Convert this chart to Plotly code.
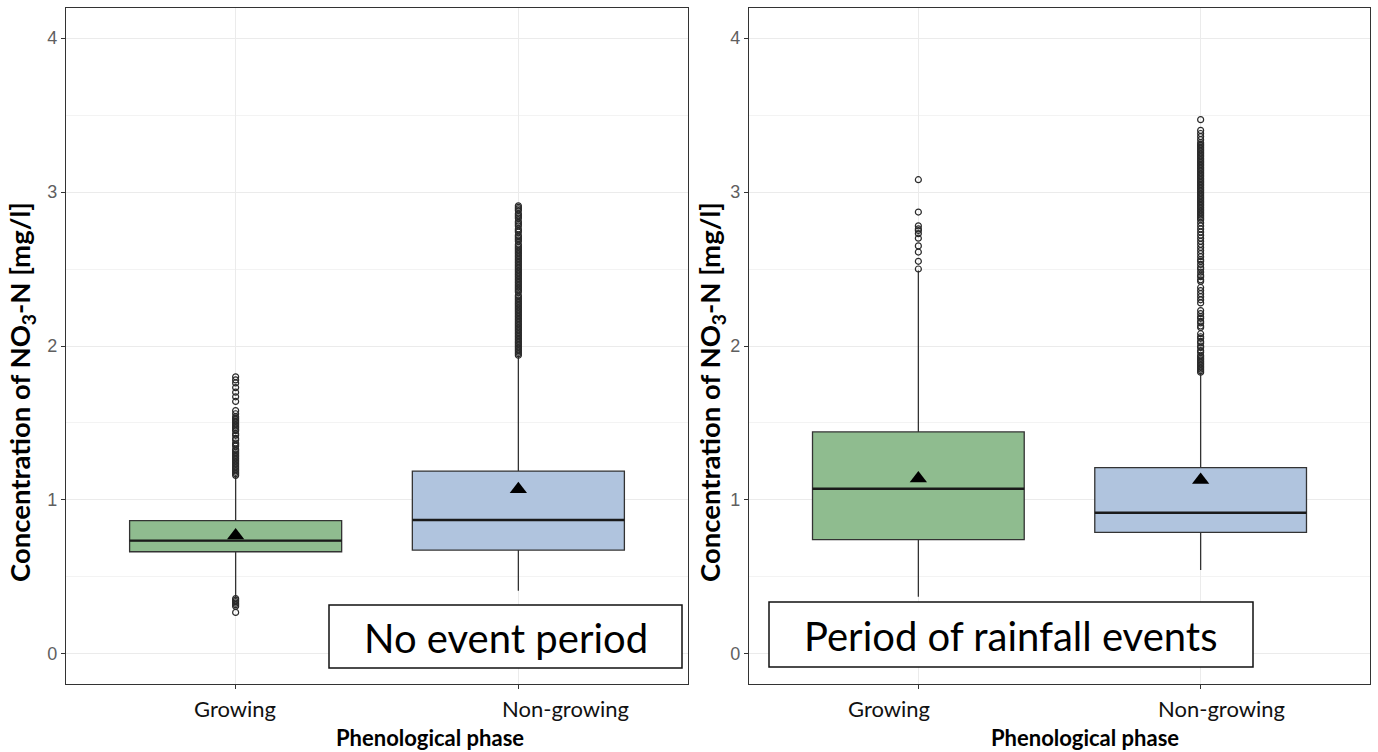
import plotly.graph_objects as go

W, H = 1378, 752

# ---------------- data ----------------
categories = ["Growing", "Non-growing"]
cat_pos = [1, 2]

# Panel A: No event period
a_q1 = [0.664, 0.675]
a_median = [0.736, 0.870]
a_q3 = [0.866, 1.188]
a_lower = [0.365, 0.410]
a_upper = [1.160, 1.937]
a_mean = [0.770, 1.070]
a_out_growing = [1.16, 1.17, 1.18, 1.19, 1.20, 1.21, 1.22, 1.23, 1.24, 1.25, 1.26, 1.27,
                 1.28, 1.29, 1.30, 1.31, 1.32, 1.33, 1.35, 1.36, 1.37, 1.39, 1.40, 1.42,
                 1.43, 1.45, 1.46, 1.47, 1.48, 1.49, 1.50, 1.51, 1.52, 1.53, 1.54, 1.56,
                 1.58, 1.64, 1.67, 1.70, 1.73, 1.76, 1.78, 1.80,
                 0.36, 0.35, 0.34, 0.33, 0.32, 0.31, 0.27]
a_out_nongrowing = [1.94, 1.95, 1.96, 1.97, 1.98, 1.99, 2.00, 2.01, 2.02, 2.03, 2.04, 2.05,
                    2.06, 2.07, 2.08, 2.09, 2.10, 2.11, 2.12, 2.13, 2.14, 2.15, 2.16, 2.17,
                    2.18, 2.19, 2.20, 2.21, 2.22, 2.23, 2.24, 2.25, 2.26, 2.27, 2.28, 2.29,
                    2.30, 2.31, 2.32, 2.33, 2.35, 2.36, 2.37, 2.38, 2.39, 2.40, 2.41, 2.42,
                    2.43, 2.44, 2.45, 2.46, 2.47, 2.48, 2.49, 2.50, 2.51, 2.52, 2.53, 2.54,
                    2.55, 2.56, 2.57, 2.58, 2.59, 2.60, 2.61, 2.62, 2.63, 2.64, 2.65, 2.66,
                    2.68, 2.69, 2.70, 2.71, 2.72, 2.74, 2.75, 2.76, 2.78, 2.79, 2.80, 2.81,
                    2.83, 2.84, 2.85, 2.86, 2.88, 2.89, 2.90, 2.91]

# Panel B: Period of rainfall events
b_q1 = [0.742, 0.790]
b_median = [1.073, 0.917]
b_q3 = [1.442, 1.210]
b_lower = [0.372, 0.545]
b_upper = [2.490, 1.823]
b_mean = [1.140, 1.130]
b_out_growing = [2.50, 2.55, 2.61, 2.65, 2.70, 2.73, 2.75, 2.76, 2.78, 2.87, 3.08]
b_out_nongrowing = [1.83, 1.84, 1.85, 1.86, 1.87, 1.88, 1.89, 1.90, 1.91, 1.92, 1.93, 1.94,
                    1.96, 1.97, 1.99, 2.00, 2.02, 2.03, 2.05, 2.06, 2.08,
                    2.12, 2.13, 2.15, 2.16, 2.18, 2.19, 2.21, 2.23,
                    2.28, 2.30, 2.32, 2.34, 2.36, 2.38,
                    2.42, 2.43, 2.45, 2.46, 2.48, 2.50, 2.51, 2.53, 2.55, 2.56,
                    2.58, 2.60, 2.62, 2.64, 2.66, 2.68, 2.70, 2.72, 2.74, 2.76, 2.78, 2.80,
                    2.82, 2.83, 2.84, 2.85, 2.86, 2.87, 2.88, 2.89, 2.90, 2.91, 2.92, 2.93,
                    2.94, 2.95, 2.96, 2.97, 2.98, 2.99, 3.00, 3.01, 3.02, 3.03, 3.04, 3.05,
                    3.06, 3.07, 3.08, 3.09, 3.10, 3.11, 3.12, 3.13, 3.14, 3.15, 3.16, 3.17,
                    3.18, 3.19, 3.20, 3.21, 3.22, 3.23, 3.24, 3.25, 3.26, 3.27, 3.28, 3.29,
                    3.30, 3.31, 3.32, 3.34, 3.36, 3.38, 3.40, 3.47]

fills = ["#8FBC8F", "#B0C4DE"]
y_ticks = [0, 1, 2, 3, 4]
panel_labels = ["No event period", "Period of rainfall events"]
x_title = "Phenological phase"
y_title = "Concentration of NO<sub>3</sub>-N [mg/l]"

# ---------------- figure ----------------
fig = go.Figure()
BOXW = 0.75
EDGE = "#333333"

panels = [
    ("x", "y", a_q1, a_median, a_q3, a_lower, a_upper, a_mean, [a_out_growing, a_out_nongrowing]),
    ("x2", "y2", b_q1, b_median, b_q3, b_lower, b_upper, b_mean, [b_out_growing, b_out_nongrowing]),
]

for xa, ya, q1, med, q3, lo, up, mean, outs in panels:
    for i in range(2):
        fig.add_trace(go.Box(
            x=[cat_pos[i]], q1=[q1[i]], median=[med[i]], q3=[q3[i]],
            lowerfence=[lo[i]], upperfence=[up[i]],
            width=BOXW, whiskerwidth=0, boxpoints=False,
            fillcolor=fills[i], line=dict(color=EDGE, width=1.3),
            xaxis=xa, yaxis=ya, showlegend=False, hoverinfo="skip"))
        # thicker median line
        fig.add_trace(go.Scatter(
            x=[cat_pos[i] - BOXW / 2, cat_pos[i] + BOXW / 2], y=[med[i], med[i]],
            mode="lines", line=dict(color="#1a1a1a", width=2.4),
            xaxis=xa, yaxis=ya, showlegend=False, hoverinfo="skip"))
        # outliers
        fig.add_trace(go.Scatter(
            x=[cat_pos[i]] * len(outs[i]), y=outs[i], mode="markers",
            marker=dict(symbol="circle-open", size=6, color="#2a2a2a",
                        line=dict(width=1.2)),
            xaxis=xa, yaxis=ya, showlegend=False, hoverinfo="skip"))
    # means
    fig.add_trace(go.Scatter(
        x=cat_pos, y=mean, mode="markers",
        marker=dict(symbol="triangle-up", size=15, color="black"),
        xaxis=xa, yaxis=ya, showlegend=False, hoverinfo="skip"))

# plot areas in pixels
A = (66, 688)
B = (749, 1370)
TOP, BOT = 8, 684
ydom = [1 - BOT / H, 1 - TOP / H]

common_x = dict(range=[0.4, 2.6], tickvals=cat_pos, showticklabels=False,
                showline=True, mirror=True, linecolor=EDGE, linewidth=1.2,
                ticks="outside", ticklen=4, tickcolor=EDGE, tickwidth=1,
                showgrid=True, gridcolor="#EBEBEB", gridwidth=1, zeroline=False,
                fixedrange=True)
common_y = dict(range=[-0.195, 4.195], tickvals=y_ticks,
                showline=True, mirror=True, linecolor=EDGE, linewidth=1.2,
                ticks="outside", ticklen=4, tickcolor=EDGE, tickwidth=1,
                showgrid=True, gridcolor="#EBEBEB", gridwidth=1, zeroline=False,
                minor=dict(dtick=0.5, showgrid=True, gridcolor="#F3F3F3", gridwidth=1),
                tickfont=dict(family="Liberation Sans", size=18, color="#5f5f5f"),
                fixedrange=True)

fig.update_layout(
    width=W, height=H,
    margin=dict(l=0, r=0, t=0, b=0),
    paper_bgcolor="white", plot_bgcolor="white",
    xaxis=dict(domain=[A[0] / W, A[1] / W], anchor="y", **common_x),
    yaxis=dict(domain=ydom, anchor="x", **common_y),
    xaxis2=dict(domain=[B[0] / W, B[1] / W], anchor="y2", **common_x),
    yaxis2=dict(domain=ydom, anchor="x2", **common_y),
)

shapes = []
annotations = []


def px(x):
    return x / W


def py(y):
    return 1 - y / H


# label boxes
for (x0, y0, x1, y1), txt in zip([(329, 605, 682, 668), (769, 602, 1253, 667)], panel_labels):
    shapes.append(dict(type="rect", xref="paper", yref="paper",
                       x0=px(x0), x1=px(x1), y0=py(y1), y1=py(y0),
                       line=dict(color="#111111", width=1.5), fillcolor="white",
                       layer="above"))
    annotations.append(dict(xref="paper", yref="paper", x=px((x0 + x1) / 2),
                            y=py((y0 + y1) / 2 + 1), text=txt, showarrow=False,
                            xanchor="center", yanchor="middle",
                            font=dict(family="Lato", size=40, color="black")))

# category labels (placed as in the reference composite)
for cx, txt in zip([235, 565, 889, 1221], categories + categories):
    annotations.append(dict(xref="paper", yref="paper", x=px(cx), y=py(708),
                            text=txt, showarrow=False, xanchor="center", yanchor="middle",
                            font=dict(family="Lato", size=22, color="#111111")))

# axis titles
for cx in [430, 1085]:
    annotations.append(dict(xref="paper", yref="paper", x=px(cx), y=py(737),
                            text="<b>%s</b>" % x_title, showarrow=False,
                            xanchor="center", yanchor="middle",
                            font=dict(family="Lato", size=22, color="black")))
for cx in [21, 711]:
    annotations.append(dict(xref="paper", yref="paper", x=px(cx), y=py(392),
                            text="<b>%s</b>" % y_title, showarrow=False, textangle=-90,
                            xanchor="center", yanchor="middle",
                            font=dict(family="Lato", size=27.5, color="black")))

fig.update_layout(shapes=shapes, annotations=annotations)

fig.write_html("out.html", config={"displayModeBar": False})

# remove the default page margin so the figure sits at the window's origin
with open("out.html", "r", encoding="utf-8") as f:
    html = f.read()
html = html.replace("<head>", "<head><style>html,body{margin:0;padding:0;overflow:hidden;}</style>", 1)
with open("out.html", "w", encoding="utf-8") as f:
    f.write(html)
